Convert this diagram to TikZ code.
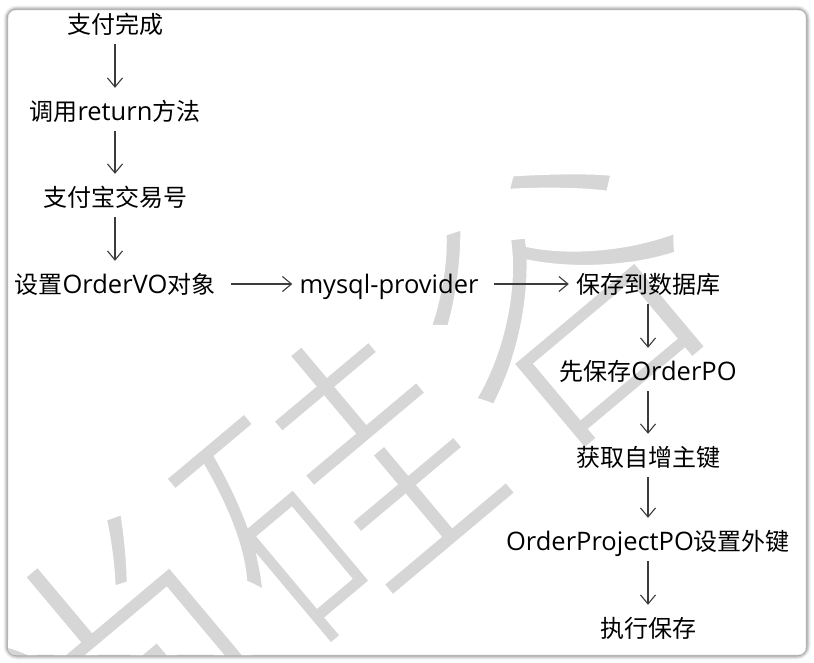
\documentclass[tikz,border=0pt]{standalone}
\usepackage{fontspec}
\setmainfont{Noto Sans CJK SC}
\newfontfamily\cjkfont{Noto Sans CJK SC}
\newfontfamily\latfont{Open Sans}
\usetikzlibrary{arrows.meta}
\definecolor{wmgray}{HTML}{D6D6D6}
\definecolor{arrgray}{HTML}{3C3C3C}
\newcommand{\lat}[1]{{\latfont\fontsize{25.5}{26}\selectfont #1}}
\tikzset{
  lbl/.style={font=\cjkfont\fontsize{24}{26}\selectfont, text=black, inner sep=2pt, text height=22pt, text depth=4pt},
  flow/.style={draw=arrgray, line width=1.1pt, -{Straight Barb[length=9pt,width=15pt,line width=1.1pt]}},
  vflow/.style={flow, shorten <=5pt, shorten >=8pt},
  hflow/.style={flow, shorten <=13pt, shorten >=5pt},
}
\begin{document}
\begin{tikzpicture}[x=1pt,y=-1pt]
\useasboundingbox (0,0) rectangle (814,662);
\fill[white] (0,0) rectangle (814,662);
% shadow
\foreach \w/\o in {9/0.05,7/0.07,5/0.09,3/0.12,1.5/0.18}{
  \draw[line width=\w pt, black, opacity=\o, rounded corners=9pt] (8,10) rectangle (806,655);
}
\fill[white,rounded corners=8pt] (8,10) rectangle (806,655);
\draw[black!12, line width=0.6pt,rounded corners=8pt] (8,10) rectangle (806,655);
% watermark
\begin{scope}
\clip[rounded corners=8pt] (8,10) rectangle (806,655);
\node[text=wmgray, font=\cjkfont\fontsize{290}{290}\selectfont, rotate=40, inner sep=0pt] (wm) at (338,485) {\special{pdf:literal direct 1 1 1 RG 2 Tr 8 w}尚硅谷\special{pdf:literal direct 0 Tr}};
\end{scope}
% nodes
\node[lbl] (a) at (115,24) {支付完成};
\node[lbl] (b) at (115,111) {调用\lat{return}方法};
\node[lbl] (c) at (115,197) {支付宝交易号};
\node[lbl] (d) at (115,284) {设置\lat{OrderVO}对象};
\node[lbl] (e) at (389,284) {\lat{mysql-provider}};
\node[lbl] (f) at (648,284) {保存到数据库};
\node[lbl] (g) at (648,371) {先保存\lat{OrderPO}};
\node[lbl] (h) at (648,457) {获取自增主键};
\node[lbl] (i) at (648,541) {\lat{OrderProjectPO}设置外键};
\node[lbl] (j) at (648,628) {执行保存};
% connectors
\draw[vflow] (a) -- (b);
\draw[vflow] (b) -- (c);
\draw[vflow] (c) -- (d);
\draw[hflow] (d) -- (e);
\draw[hflow] (e) -- (f);
\draw[vflow] (f) -- (g);
\draw[vflow] (g) -- (h);
\draw[vflow] (h) -- (i);
\draw[vflow] (i) -- (j);
\end{tikzpicture}
\end{document}
